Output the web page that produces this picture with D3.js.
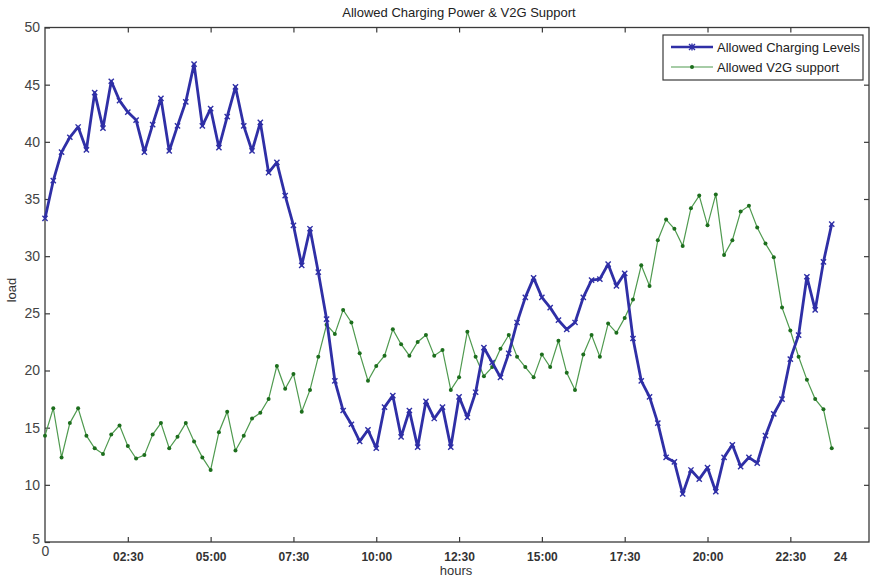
<!DOCTYPE html>
<html>
<head>
<meta charset="utf-8">
<script src="https://cdn.jsdelivr.net/npm/d3@7"></script>
<style>
  html, body { margin: 0; padding: 0; background: #fff; }
  svg { display: block; }
</style>
</head>
<body>
<svg id="chart" width="870" height="578"></svg>
<script>
// ---- data (96 quarter-hour slots) ----
const chargingLevels = [
  33.3, 36.6, 39.1, 40.4, 41.3, 39.3, 44.3, 41.2, 45.3, 43.6,
  42.6, 41.9, 39.1, 41.5, 43.8, 39.2, 41.4, 43.5, 46.8, 41.4,
  42.9, 39.5, 42.2, 44.8, 41.4, 39.2, 41.7, 37.3, 38.2, 35.3,
  32.7, 29.2, 32.4, 28.6, 24.5, 19.1, 16.5, 15.3, 13.8, 14.8,
  13.2, 16.8, 17.8, 14.2, 16.5, 13.3, 17.3, 15.8, 16.8, 13.3,
  17.7, 15.9, 18.1, 22.0, 20.7, 19.4, 21.5, 24.2, 26.4, 28.1,
  26.4, 25.5, 24.4, 23.6, 24.2, 26.4, 27.9, 28.0, 29.3, 27.4,
  28.5, 22.8, 19.1, 17.7, 15.4, 12.4, 12.0, 9.2, 11.3, 10.5,
  11.5, 9.4, 12.4, 13.5, 11.6, 12.4, 11.9, 14.3, 16.2, 17.5,
  21.0, 23.1, 28.2, 25.3, 29.5, 32.8
];
const v2gSupport = [
  14.3, 16.7, 12.4, 15.4, 16.7, 14.3, 13.2, 12.7, 14.4, 15.2,
  13.4, 12.3, 12.6, 14.4, 15.4, 13.2, 14.2, 15.4, 13.8, 12.4,
  11.3, 14.6, 16.4, 13.0, 14.3, 15.8, 16.3, 17.5, 20.4, 18.4,
  19.7, 16.4, 18.3, 21.2, 24.0, 23.2, 25.3, 24.2, 21.5, 19.1,
  20.4, 21.3, 23.6, 22.3, 21.3, 22.5, 23.1, 21.3, 21.8, 18.3,
  19.4, 23.4, 21.2, 19.5, 20.3, 21.9, 23.1, 21.2, 20.3, 19.4,
  21.4, 20.3, 22.6, 19.8, 18.3, 21.4, 23.1, 21.2, 24.1, 23.3,
  24.6, 26.2, 29.2, 27.4, 31.4, 33.2, 32.4, 30.9, 34.2, 35.3,
  32.7, 35.4, 30.1, 31.4, 33.9, 34.4, 32.5, 31.1, 29.9, 25.5,
  23.5, 21.2, 19.2, 17.5, 16.6, 13.2
];
const xTickSlots = [0, 10, 20, 30, 40, 50, 60, 70, 80, 90, 96];
const xTickLabels = ["0", "02:30", "05:00", "07:30", "10:00", "12:30", "15:00", "17:30", "20:00", "22:30", "24"];
const yTicks = [5, 10, 15, 20, 25, 30, 35, 40, 45, 50];
const seriesNames = ["Allowed Charging Levels", "Allowed V2G support"];

const titleText = "Allowed Charging Power & V2G Support";
const xLabel = "hours";
const yLabel = "load";

// ---- layout ----
const pLeft = 45, pRight = 869, pTop = 27.5, pBottom = 542;
const svg = d3.select("#chart");
const x = d3.scaleLinear().domain([0, 99.5]).range([pLeft, pRight]);
const y = d3.scaleLinear().domain([5, 50]).range([pBottom, pTop]);

const frameColor = "#3a3a3a";
const blue = "#2f2fa6";
const greenLine = "#4f9a4f";
const greenDot = "#1d6e1d";
const fontFam = "'Liberation Sans', Arial, sans-serif";

// frame
svg.append("rect")
  .attr("x", pLeft).attr("y", pTop)
  .attr("width", pRight - pLeft).attr("height", pBottom - pTop)
  .attr("fill", "none").attr("stroke", frameColor).attr("stroke-width", 1.3);

// left axis
const yAxisG = svg.append("g").attr("transform", `translate(${pLeft},0)`)
  .call(d3.axisLeft(y).tickValues(yTicks).tickSizeInner(-5).tickSizeOuter(0).tickPadding(6));
yAxisG.select(".domain").remove();
yAxisG.selectAll(".tick line").attr("stroke", frameColor).attr("stroke-width", 1.2);
yAxisG.selectAll(".tick text")
  .attr("font-family", fontFam).attr("font-size", 14).attr("fill", "#444")
  .attr("x", -5);
yAxisG.selectAll(".tick text").filter(d => d === 5).attr("dy", "0.1em");

// right axis ticks
const yAxisR = svg.append("g").attr("transform", `translate(${pRight},0)`)
  .call(d3.axisRight(y).tickValues(yTicks.filter(d => d > 5 && d < 50)).tickSizeInner(-5).tickSizeOuter(0).tickFormat(""));
yAxisR.select(".domain").remove();
yAxisR.selectAll(".tick line").attr("stroke", frameColor).attr("stroke-width", 1.2);

// bottom axis
const xAxisG = svg.append("g").attr("transform", `translate(0,${pBottom})`)
  .call(d3.axisBottom(x).tickValues(xTickSlots).tickSizeInner(-5).tickSizeOuter(0)
    .tickFormat((d, i) => xTickLabels[i]).tickPadding(10));
xAxisG.select(".domain").remove();
xAxisG.selectAll(".tick line").attr("stroke", frameColor).attr("stroke-width", 1.2);
xAxisG.selectAll(".tick line").filter(d => d === 0 || d === 96).remove();
xAxisG.selectAll(".tick text")
  .attr("font-family", fontFam).attr("font-size", 12).attr("font-weight", "bold").attr("fill", "#333");
xAxisG.selectAll(".tick text").filter(d => d === 0)
  .attr("font-weight", "normal").attr("font-size", 14).attr("fill", "#444").attr("y", 4);

// top ticks
const xAxisT = svg.append("g").attr("transform", `translate(0,${pTop})`)
  .call(d3.axisTop(x).tickValues(xTickSlots.filter(d => d > 0 && d < 96)).tickSizeInner(-5).tickSizeOuter(0).tickFormat(""));
xAxisT.select(".domain").remove();
xAxisT.selectAll(".tick line").attr("stroke", frameColor).attr("stroke-width", 1.2);

// lines
const line = d3.line().x((d, i) => x(i)).y(d => y(d));

svg.append("path").datum(v2gSupport)
  .attr("d", line).attr("fill", "none").attr("stroke", greenLine).attr("stroke-width", 1.2);
svg.append("g").selectAll("circle").data(v2gSupport).join("circle")
  .attr("cx", (d, i) => x(i)).attr("cy", d => y(d)).attr("r", 2)
  .attr("fill", greenDot);

svg.append("path").datum(chargingLevels)
  .attr("d", line).attr("fill", "none").attr("stroke", blue).attr("stroke-width", 2.8)
  .attr("stroke-linejoin", "round");
const xm = 2.6;
svg.append("g").selectAll("path").data(chargingLevels).join("path")
  .attr("d", (d, i) => {
    const cx = x(i), cy = y(d);
    return `M${cx - xm},${cy - xm}L${cx + xm},${cy + xm}M${cx - xm},${cy + xm}L${cx + xm},${cy - xm}`;
  })
  .attr("stroke", blue).attr("stroke-width", 1.4).attr("fill", "none");

// title and labels
svg.append("text").attr("x", 459).attr("y", 17).attr("text-anchor", "middle")
  .attr("font-family", fontFam).attr("font-size", 13).attr("fill", "#222").text(titleText);
svg.append("text").attr("x", 456).attr("y", 575).attr("text-anchor", "middle")
  .attr("font-family", fontFam).attr("font-size", 13).attr("fill", "#333").text(xLabel);
svg.append("text").attr("transform", "translate(16,290) rotate(-90)").attr("text-anchor", "middle")
  .attr("font-family", fontFam).attr("font-size", 13).attr("fill", "#333").text(yLabel);

// legend
const lg = svg.append("g");
lg.append("rect").attr("x", 663).attr("y", 35).attr("width", 200).attr("height", 45)
  .attr("fill", "#fff").attr("stroke", frameColor).attr("stroke-width", 1.2);
const legendRows = [
  { name: seriesNames[0], color: blue, w: 2.6, yy: 47 },
  { name: seriesNames[1], color: greenLine, w: 1.2, yy: 67 }
];
legendRows.forEach((r, k) => {
  lg.append("line").attr("x1", 671).attr("x2", 713).attr("y1", r.yy).attr("y2", r.yy)
    .attr("stroke", r.color).attr("stroke-width", r.w);
  if (k === 0) {
    const c = 692, s = 3;
    lg.append("path")
      .attr("d", `M${c - s},${r.yy - s}L${c + s},${r.yy + s}M${c - s},${r.yy + s}L${c + s},${r.yy - s}M${c},${r.yy - s - 0.5}L${c},${r.yy + s + 0.5}`)
      .attr("stroke", blue).attr("stroke-width", 1.4);
  } else {
    lg.append("circle").attr("cx", 692).attr("cy", r.yy).attr("r", 2).attr("fill", greenDot);
  }
  lg.append("text").attr("x", 717).attr("y", r.yy + 4.5)
    .attr("font-family", fontFam).attr("font-size", 13).attr("fill", "#222").text(r.name);
});
</script>
</body>
</html>
